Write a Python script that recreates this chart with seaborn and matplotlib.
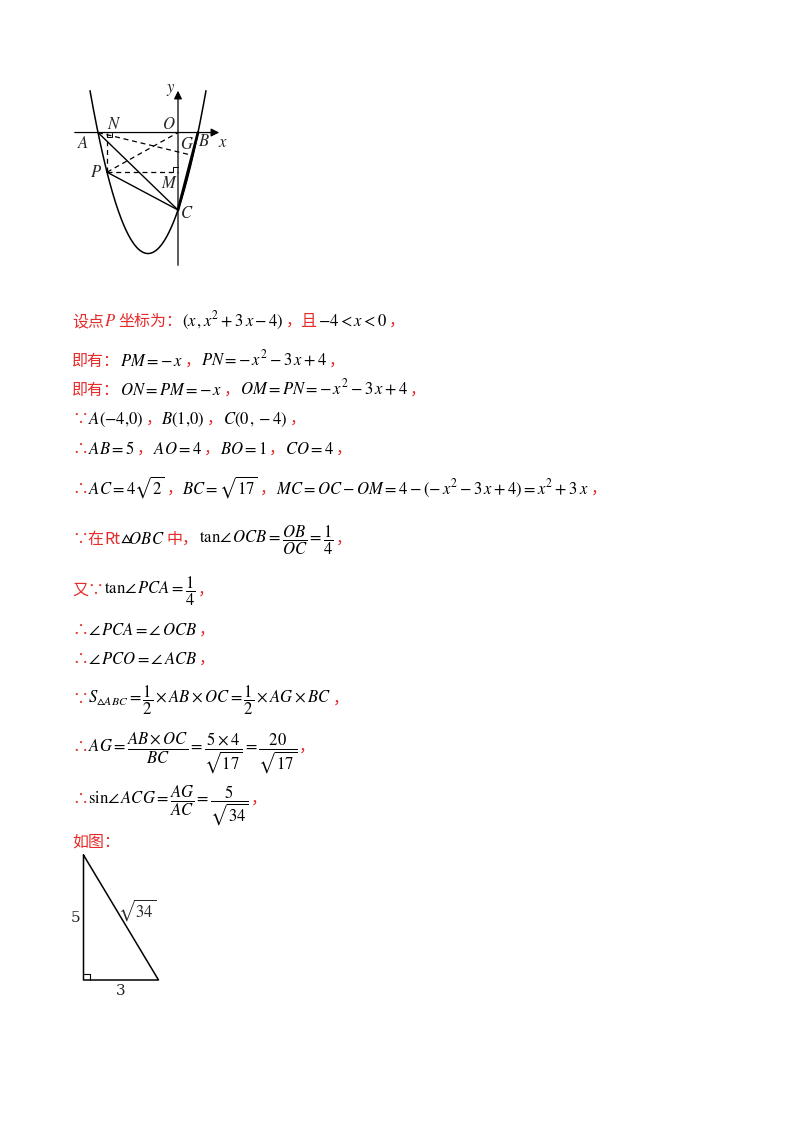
import matplotlib
matplotlib.use("Agg")
import matplotlib.pyplot as plt
import numpy as np
import seaborn as sns

sns.set_theme(style="white")
plt.rcParams["mathtext.fontset"] = "stix"
plt.rcParams["font.family"] = ["Noto Sans CJK SC", "DejaVu Sans"]

W, H = 800, 1132
R = "#e62b2b"
K = "black"

# parabola y = x^2 + 3x - 4 and the named points
coef = [1, 3, -4]
A = (-4, 0)
B = (1, 0)
C = (0, -4)
O = (0, 0)
px = -3.55
P = (px, np.polyval(coef, px))
N = (px, 0)
M = (0, P[1])
G = (1 - 5 / 17, -20 / 17)
tri_legs = [5, 3]
tri_labels = ["5", r"$\sqrt{34}$", "3"]

fig = plt.figure(figsize=(W / 100, H / 100), dpi=100)
fig.patch.set_facecolor("white")
renderer = fig.canvas.get_renderer()

# diagram
ax = fig.add_axes([70 / W, 1 - 270 / H, 152 / W, 182 / H])
ax.set_xlim(-5.4, 2.2)
ax.set_ylim(-7.1, 2.3)
ax.axis("off")
xs = np.linspace(-4.4, 1.4, 200)
sns.lineplot(x=xs, y=np.polyval(coef, xs), ax=ax, color=K, lw=1.1, sort=False)
ax.annotate("", xy=(2.2, 0), xytext=(-5.3, 0),
            arrowprops=dict(arrowstyle="-|>", color=K, lw=0.9))
ax.annotate("", xy=(0, 2.3), xytext=(0, -7.0),
            arrowprops=dict(arrowstyle="-|>", color=K, lw=0.9))
for p1, p2 in [(A, C), (P, C)]:
    ax.plot([p1[0], p2[0]], [p1[1], p2[1]], color=K, lw=1)
ax.plot([B[0], C[0]], [B[1], C[1]], color=K, lw=2)
for p1, p2 in [(A, G), (P, O), (P, M), (P, N)]:
    ax.plot([p1[0], p2[0]], [p1[1], p2[1]], color=K, lw=0.9, ls=(0, (4, 3)))
s = 0.25
ax.plot([-s, -s, 0], [M[1], M[1] + s, M[1] + s], color=K, lw=0.7)
ax.plot([N[0], N[0] + s, N[0] + s], [-s, -s, 0], color=K, lw=0.7)
labels = [("N", N, (0.35, 0.4)), ("O", O, (-0.45, 0.4)), ("B", B, (0.3, -0.45)),
          ("A", A, (-0.75, -0.55)), ("G", G, (-0.25, 0.55)), ("P", P, (-0.55, 0.0)),
          ("M", M, (-0.45, -0.6)), ("C", C, (0.45, -0.2)), ("y", (0, 2.3), (-0.35, -0.1)),
          ("x", (2.2, 0), (0.05, -0.5))]
for t, p, d in labels:
    ax.text(p[0] + d[0], p[1] + d[1], "$" + t + "$", fontsize=12, ha="center", va="center")


def line(y, parts, x=72, msize=12):
    for s, c in parts:
        math = s.startswith("$")
        t = fig.text(x / W, 1 - y / H, s, color=c, va="baseline",
                     fontsize=msize if math else 11.5)
        x += t.get_window_extent(renderer).width + (2 if math else 0)


line(326, [("设点", R), ("$P$", R), ("坐标为：", R), (r"$(x\,,x^2+3\,x-4)$", K),
           ("，且", R), (r"$-4<x<0$", K), ("，", R)])
line(366, [("即有：", R), (r"$PM=-\,x$", K), ("，", R), (r"$PN=-\,x^2-3\,x+4$", K), ("，", R)])
line(395, [("即有：", R), (r"$ON=PM=-\,x$", K), ("，", R), (r"$OM=PN=-\,x^2-3\,x+4$", K), ("，", R)])
line(424, [("∵", R), (r"$A(-4{,}0)$", K), ("，", R), (r"$B(1{,}0)$", K),
           ("，", R), (r"$C(0\,,-4)$", K), ("，", R)])
line(454, [("∴", R), (r"$AB=5$", K), ("，", R), (r"$AO=4$", K), ("，", R), (r"$BO=1$", K),
           ("，", R), (r"$CO=4$", K), ("，", R)])
line(494, [("∴", R), (r"$AC=4\sqrt{2}$", K), ("，", R), (r"$BC=\sqrt{17}$", K), ("，", R),
           (r"$MC=OC-OM=4-(-\,x^2-3\,x+4)=x^2+3\,x$", K), ("，", R)])
line(544, [("∵在", R), ("Rt", R), (r"$\vartriangle\!OBC$", K), ("中，", R),
           (r"$\mathrm{tan}\angle\,OCB=\dfrac{\mathbf{\mathit{OB}}}{\mathbf{\mathit{OC}}}=\dfrac{1}{4}$", K), ("，", R)])
line(595, [("又∵", R), (r"$\mathrm{tan}\angle\,PCA=\dfrac{1}{4}$", K), ("，", R)])
line(635, [("∴", R), (r"$\angle\,PCA=\angle\,OCB$", K), ("，", R)])
line(664, [("∴", R), (r"$\angle\,PCO=\angle\,ACB$", K), ("，", R)])
line(704, [("∵", R), (r"$S_{\vartriangle ABC}=\dfrac{1}{2}\times AB\times OC=\dfrac{1}{2}\times AG\times BC$", K), ("，", R)])
line(752, [("∴", R), (r"$AG=\dfrac{AB\times OC}{BC}=\dfrac{5\times 4}{\sqrt{17}}=\dfrac{20}{\sqrt{17}}$", K), ("，", R)])
line(804, [("∴", R), (r"$\mathrm{sin}\angle\,ACG=\dfrac{AG}{AC}=\dfrac{5}{\sqrt{34}}$", K), ("，", R)])
line(847, [("如图：", R)])

# right triangle
tx = fig.add_axes([71 / W, 1 - 1000 / H, 120 / W, 150 / H])
tx.set_xlim(-0.5, 4.3)
tx.set_ylim(-0.8, 5.2)
tx.axis("off")
a, b = tri_legs
tx.plot([0, 0, b, 0], [a, 0, 0, a], color=K, lw=1.1)
tx.plot([0, 0.25, 0.25], [0.25, 0.25, 0], color=K, lw=0.8)
tx.text(-0.3, a / 2, tri_labels[0], fontsize=11, ha="center", va="center", family="DejaVu Serif")
tx.text(2.15, 2.8, tri_labels[1], fontsize=12, ha="center", va="center")
tx.text(b / 2, -0.45, tri_labels[2], fontsize=11, ha="center", va="center", family="DejaVu Serif")

fig.savefig("out.png", dpi=100)
